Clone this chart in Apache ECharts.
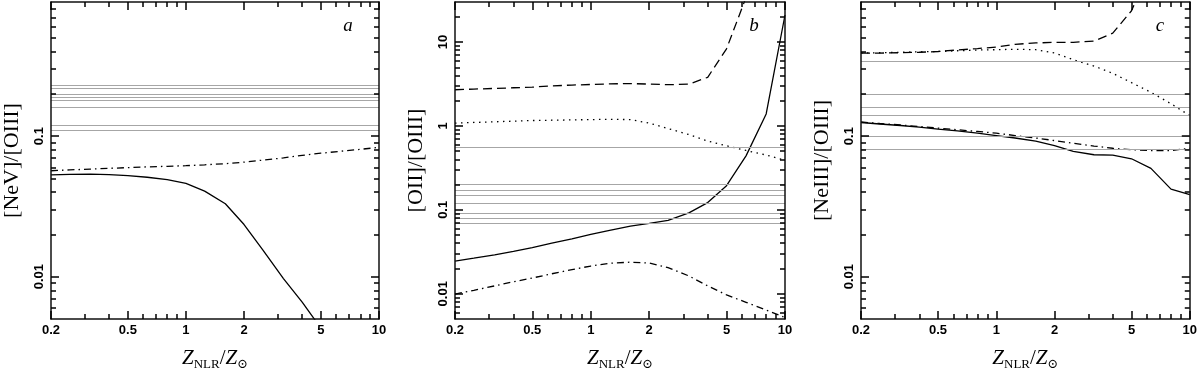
<!DOCTYPE html>
<html>
<head>
<meta charset="utf-8">
<script src="https://cdn.jsdelivr.net/npm/echarts@6/dist/echarts.min.js"></script>
<style>
html,body{margin:0;padding:0;background:#fff}
#main{width:1200px;height:376px}
</style>
</head>
<body>
<div id="main"></div>
<script>
// model grid in Z_NLR/Z_sun
var zGrid = [0.2, 0.25, 0.32, 0.4, 0.5, 0.63, 0.8, 1, 1.25, 1.6, 2, 2.5, 3.2, 4, 5, 6.3, 8, 10];

// panel a : [NeV]/[OIII]
var aSolid   = [0.053, 0.0535, 0.0537, 0.0533, 0.0524, 0.051, 0.049, 0.0461, 0.0406, 0.033, 0.0235, 0.0155, 0.0097, 0.0066, 0.0043];
var aDashDot = [0.0567, 0.0575, 0.0583, 0.059, 0.0597, 0.0604, 0.061, 0.0616, 0.0625, 0.0637, 0.0653, 0.0675, 0.070, 0.073, 0.0756, 0.078, 0.0805, 0.0832];
var aObs     = [0.230, 0.222, 0.197, 0.191, 0.179, 0.157, 0.121, 0.110];

// panel b : [OII]/[OIII]
var bDashed  = [2.7, 2.75, 2.8, 2.85, 2.9, 3.0, 3.07, 3.12, 3.17, 3.2, 3.15, 3.1, 3.15, 3.8, 8.3, 34];
var bDotted  = [1.08, 1.10, 1.12, 1.14, 1.16, 1.17, 1.18, 1.19, 1.2, 1.19, 1.08, 0.93, 0.79, 0.66, 0.58, 0.51, 0.45, 0.39];
var bSolid   = [0.0245, 0.0265, 0.029, 0.032, 0.0355, 0.040, 0.045, 0.051, 0.057, 0.064, 0.069, 0.075, 0.092, 0.122, 0.194, 0.44, 1.39, 21];
var bDashDot = [0.0099, 0.0110, 0.0124, 0.0139, 0.0154, 0.0173, 0.0194, 0.0214, 0.0231, 0.0238, 0.0232, 0.0205, 0.0163, 0.0124, 0.0097, 0.0079, 0.0064, 0.0052];
var bObs     = [0.56, 0.205, 0.195, 0.171, 0.153, 0.123, 0.093, 0.0845, 0.0667];

// panel c : [NeIII]/[OIII]
var cDashed  = [0.39, 0.39, 0.392, 0.395, 0.40, 0.41, 0.42, 0.43, 0.45, 0.46, 0.465, 0.465, 0.475, 0.54, 0.78, 1.6];
var cDotted  = [0.39, 0.392, 0.395, 0.398, 0.40, 0.405, 0.41, 0.412, 0.415, 0.412, 0.39, 0.35, 0.315, 0.28, 0.24, 0.205, 0.17, 0.14];
var cSolid   = [0.125, 0.122, 0.119, 0.116, 0.112, 0.109, 0.105, 0.101, 0.097, 0.092, 0.0855, 0.078, 0.0737, 0.0733, 0.069, 0.059, 0.042, 0.0383];
var cDashDot = [0.126, 0.123, 0.12, 0.117, 0.114, 0.111, 0.108, 0.105, 0.101, 0.097, 0.093, 0.089, 0.085, 0.082, 0.08, 0.079, 0.079, 0.082];
var cObs     = [0.336, 0.195, 0.164, 0.1436, 0.1355, 0.1005, 0.0828];

// tick values
var xMajor = [0.2, 0.5, 1, 2, 5, 10];
var xMinor = [0.3, 0.4, 0.6, 0.7, 0.8, 0.9, 3, 4, 6, 7, 8, 9];
var yMajorAC = [0.01, 0.1];
var yMinorAC = [0.006, 0.007, 0.008, 0.009, 0.02, 0.03, 0.04, 0.05, 0.06, 0.07, 0.08, 0.09, 0.2, 0.3, 0.4, 0.5, 0.6, 0.7, 0.8];
var yMajorB = [0.01, 0.1, 1, 10];
var yMinorB = [0.006, 0.007, 0.008, 0.009, 0.02, 0.03, 0.04, 0.05, 0.06, 0.07, 0.08, 0.09, 0.2, 0.3, 0.4, 0.5, 0.6, 0.7, 0.8, 0.9, 2, 3, 4, 5, 6, 7, 8, 9, 20];

var DASH = [9, 5], DOT = [1.5, 4.5], DASHDOT = [7, 4, 1.5, 4];

var panels = [
	{left: 49, yName: '[NeV]/[OIII]', yMin: 0.005, yMax: 0.9, yMajor: yMajorAC, yMinor: yMinorAC, letter: 'a',
	 obs: aObs, curves: [[aSolid, 'solid'], [aDashDot, DASHDOT]]},
	{left: 455, yName: '[OII]/[OIII]', yMin: 0.005, yMax: 30, yMajor: yMajorB, yMinor: yMinorB, letter: 'b',
	 obs: bObs, curves: [[bDashed, DASH], [bDotted, DOT], [bSolid, 'solid'], [bDashDot, DASHDOT]]},
	{left: 861, yName: '[NeIII]/[OIII]', yMin: 0.005, yMax: 0.9, yMajor: yMajorAC, yMinor: yMinorAC, letter: 'c',
	 obs: cObs, curves: [[cDashed, DASH], [cDotted, DOT], [cSolid, 'solid'], [cDashDot, DASHDOT]]}
];

function pairs(ys){
	var out = [];
	for (var i = 0; i < ys.length; i++) out.push([zGrid[i], ys[i]]);
	return out;
}

var frame = {show: true, lineStyle: {color: '#111', width: 1.5}};
var labelFont = {fontFamily: 'Liberation Sans', fontWeight: 'bold', fontSize: 13, color: '#000'};

var grids = [], xAxes = [], yAxes = [], series = [], graphics = [];

panels.forEach(function(p, k){
	grids.push({left: p.left, top: 2, width: 330, height: 330});

	// x axes : bottom major, bottom minor, top major, top minor
	[['bottom', true], ['bottom', false], ['top', true], ['top', false]].forEach(function(d, j){
		var major = d[1];
		var ax = {
			type: 'log', gridIndex: k, position: d[0], min: 0.2, max: 10, z: 10,
			splitLine: {show: false},
			axisLine: major ? frame : {show: false},
			axisTick: {show: true, inside: true, length: major ? 8 : 5,
				lineStyle: {color: '#000', width: 1.5}, customValues: major ? xMajor : xMinor},
			axisLabel: {show: false}
		};
		if (j === 0) {
			ax.axisLabel = Object.assign({show: true, margin: 5, customValues: xMajor,
				formatter: function(v){ return String(v); }}, labelFont);
			ax.name = '{z|Z}{s|NLR}{sl|/}{z|Z}{s|\u2299}';
			ax.nameLocation = 'middle';
			ax.nameGap = 26;
			ax.nameTextStyle = {
				color: '#000',
				rich: {
					z: {fontFamily: 'Liberation Serif', fontStyle: 'italic', fontSize: 21, lineHeight: 26, color: '#000'},
					sl: {fontFamily: 'Liberation Serif', fontSize: 21, lineHeight: 26, color: '#000'},
					s: {fontFamily: 'Liberation Serif, DejaVu Serif', fontSize: 13, lineHeight: 13, color: '#000',
						verticalAlign: 'bottom', padding: [13, 0, 0, 0]}
				}
			};
		}
		xAxes.push(ax);
	});

	// y axes : left major, left minor, right major, right minor
	[['left', true], ['left', false], ['right', true], ['right', false]].forEach(function(d, j){
		var major = d[1];
		var ax = {
			type: 'log', gridIndex: k, position: d[0], min: p.yMin, max: p.yMax, z: 10,
			splitLine: {show: false},
			axisLine: major ? frame : {show: false},
			axisTick: {show: true, inside: true, length: major ? 8 : 5,
				lineStyle: {color: '#000', width: 1.5}, customValues: major ? p.yMajor : p.yMinor},
			axisLabel: {show: false}
		};
		if (j === 0) {
			ax.axisLabel = Object.assign({show: true, margin: 5, rotate: 90, customValues: p.yMajor,
				formatter: function(v){ return String(v); }}, labelFont);
			ax.name = p.yName;
			ax.nameLocation = 'middle';
			ax.nameGap = 28;
			ax.nameRotate = 90;
			ax.nameTextStyle = {fontFamily: 'Liberation Serif', fontSize: 22, color: '#000'};
		}
		yAxes.push(ax);
	});

	// observed ratios (grey horizontal lines)
	series.push({
		type: 'line', xAxisIndex: k * 4, yAxisIndex: k * 4, data: [],
		markLine: {
			symbol: 'none', label: {show: false},
			lineStyle: {color: '#a6a6a6', width: 1, type: 'solid'},
			data: p.obs.map(function(v){ return {yAxis: v}; })
		}
	});

	p.curves.forEach(function(c){
		series.push({
			type: 'line', xAxisIndex: k * 4, yAxisIndex: k * 4,
			data: pairs(c[0]), showSymbol: false,
			lineStyle: {color: '#000', width: 1.3, type: c[1]}
		});
	});

	graphics.push({
		type: 'text', x: p.left + 299, y: 26,
		style: {text: p.letter, font: 'italic 19px "Liberation Serif"', fill: '#000',
			textAlign: 'center', textVerticalAlign: 'middle'}
	});
});

var myChart = echarts.init(document.getElementById('main'));
myChart.setOption({
	animation: false,
	grid: grids,
	xAxis: xAxes,
	yAxis: yAxes,
	series: series,
	graphic: graphics
});
</script>
</body>
</html>
